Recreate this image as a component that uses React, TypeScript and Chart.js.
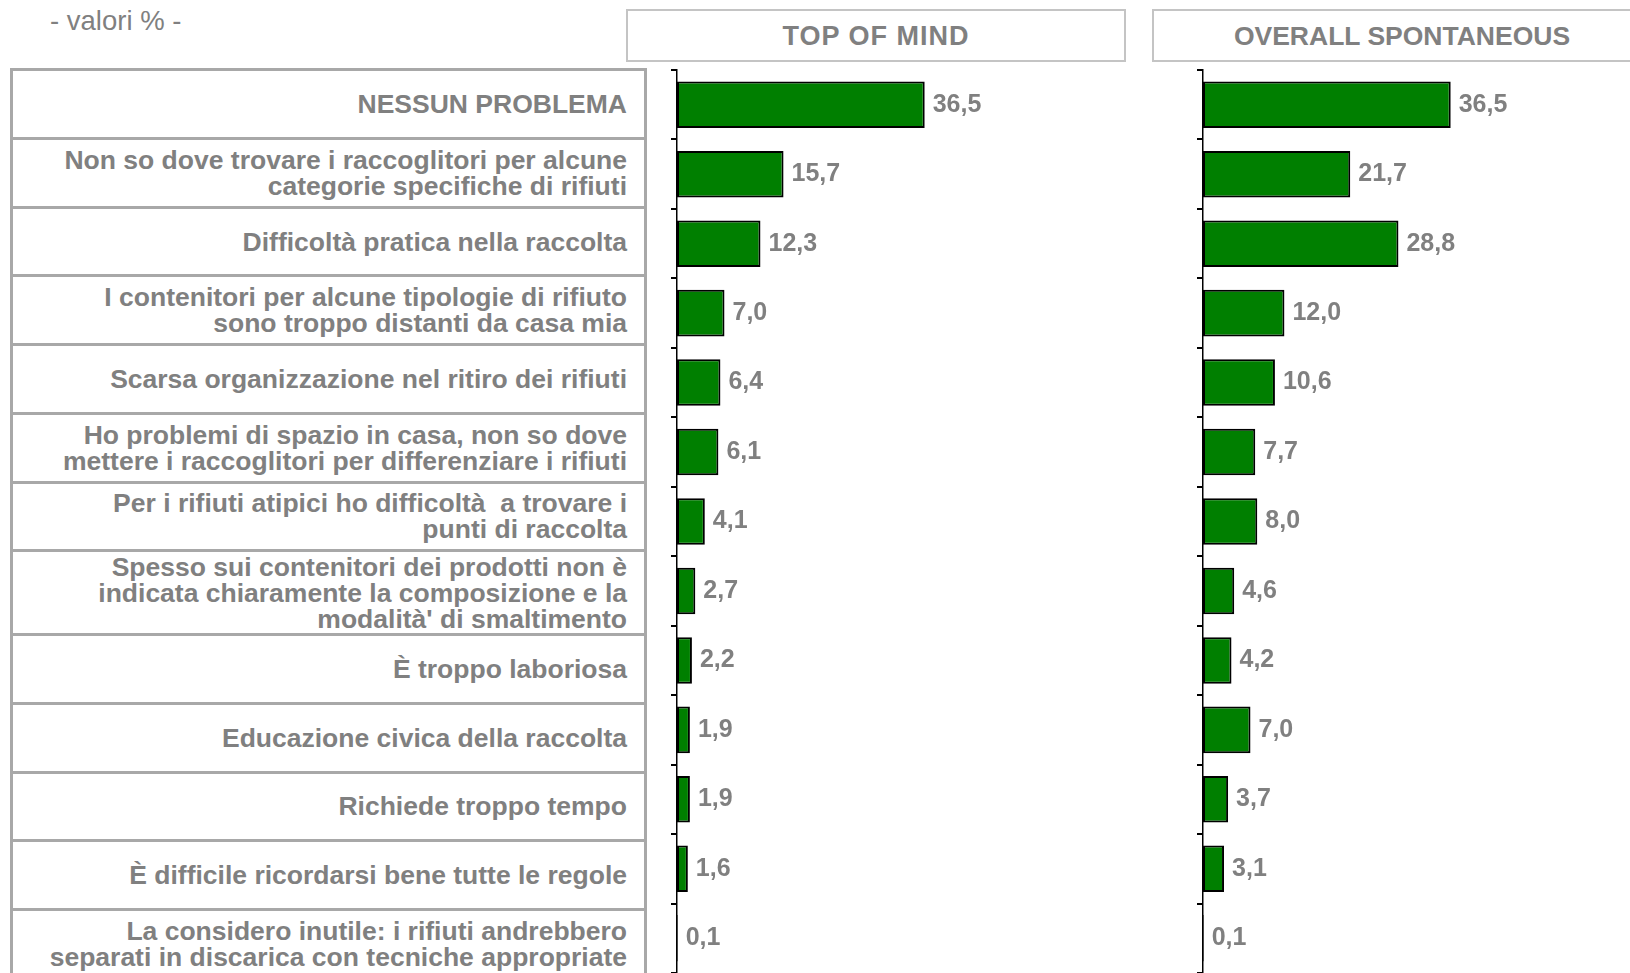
import React, { useEffect, useRef } from "react";
import { Chart, registerables } from "chart.js";

Chart.register(...registerables);

const CATEGORIES: string[][] = [
  ["NESSUN PROBLEMA"],
  ["Non so dove trovare i raccoglitori per alcune", "categorie specifiche di rifiuti"],
  ["Difficoltà pratica nella raccolta"],
  ["I contenitori per alcune tipologie di rifiuto", "sono troppo distanti da casa mia"],
  ["Scarsa organizzazione nel ritiro dei rifiuti"],
  ["Ho problemi di spazio in casa, non so dove", "mettere i raccoglitori per differenziare i rifiuti"],
  ["Per i rifiuti atipici ho difficoltà  a trovare i", "punti di raccolta"],
  ["Spesso sui contenitori dei prodotti non è", "indicata chiaramente la composizione e la", "modalità' di smaltimento"],
  ["È troppo laboriosa"],
  ["Educazione civica della raccolta"],
  ["Richiede troppo tempo"],
  ["È difficile ricordarsi bene tutte le regole"],
  ["La considero inutile: i rifiuti andrebbero", "separati in discarica con tecniche appropriate"],
];

const TOP_OF_MIND: number[] = [36.5, 15.7, 12.3, 7.0, 6.4, 6.1, 4.1, 2.7, 2.2, 1.9, 1.9, 1.6, 0.1];
const OVERALL: number[] = [36.5, 21.7, 28.8, 12.0, 10.6, 7.7, 8.0, 4.6, 4.2, 7.0, 3.7, 3.1, 0.1];

const HEADERS: string[] = ["TOP OF MIND", "OVERALL SPONTANEOUS"];
const SUBTITLE = "- valori % -";

const GRAY = "#808080";
const FONT = "'Liberation Sans', Arial, sans-serif";

const valueLabels = {
  id: "valueLabels",
  afterDatasetsDraw(chart: any) {
    const ctx = chart.ctx;
    const meta = chart.getDatasetMeta(0);
    const data = chart.data.datasets[0].data as number[];
    ctx.save();
    ctx.fillStyle = GRAY;
    ctx.font = `bold 25px ${FONT}`;
    ctx.textAlign = "left";
    ctx.textBaseline = "middle";
    meta.data.forEach((el: any, i: number) => {
      const txt = data[i].toFixed(1).replace(".", ",");
      ctx.fillText(txt, el.x + 8, el.y);
    });
    ctx.restore();
  },
};

function BarPanel({ values, left }: { values: number[]; left: number }) {
  const ref = useRef<HTMLCanvasElement>(null);
  useEffect(() => {
    if (!ref.current) return;
    const chart = new Chart(ref.current, {
      type: "bar",
      data: {
        labels: CATEGORIES.map((c) => c.join(" ")),
        datasets: [
          {
            data: values,
            backgroundColor: "#007f00",
            borderColor: "#000000",
            borderWidth: 2,
            borderSkipped: false,
            barPercentage: 0.67,
            categoryPercentage: 1,
          },
        ],
      },
      options: {
        indexAxis: "y",
        animation: false,
        responsive: false,
        maintainAspectRatio: false,
        layout: { padding: { top: 2, right: 0, bottom: 0, left: 0 } },
        plugins: {
          legend: { display: false },
          tooltip: { enabled: false },
          title: { display: false },
        },
        scales: {
          x: { display: false, min: 0, max: 69.4 },
          y: {
            display: true,
            ticks: { display: false },
            grid: {
              display: true,
              drawOnChartArea: false,
              offset: true,
              drawTicks: true,
              tickLength: 6,
              color: "#000000",
              lineWidth: 2,
            },
            border: { display: true, color: "#000000", width: 1.5 },
            afterFit: (s: any) => {
              s.width = 37;
            },
          },
        },
      } as any,
      plugins: [valueLabels],
    });
    return () => chart.destroy();
  }, [values]);
  return (
    <canvas
      ref={ref}
      width={508}
      height={905}
      style={{ position: "absolute", left, top: 68, width: 508, height: 905 }}
    />
  );
}

export default function App() {
  useEffect(() => {
    document.body.style.margin = "0";
    document.body.style.background = "#ffffff";
  }, []);

  let y = 0;
  const rows = CATEGORIES.map((lines, i) => {
    const h = i === 0 ? 66 : lines.length >= 3 ? 84 : 68.7;
    const top = y;
    y += h;
    return (
      <div
        key={i}
        style={{
          position: "absolute",
          left: 0,
          top,
          width: "100%",
          height: h,
          borderTop: i === 0 ? "none" : "3px solid #a8a8a8",
          boxSizing: "border-box",
          display: "flex",
          flexDirection: "column",
          justifyContent: "center",
          alignItems: "flex-end",
          paddingRight: 17,
        }}
      >
        {lines.map((l, j) => (
          <div key={j} style={{ lineHeight: "26px", whiteSpace: "pre" }}>
            {l}
          </div>
        ))}
      </div>
    );
  });

  return (
    <div
      style={{
        position: "relative",
        width: 1630,
        height: 973,
        overflow: "hidden",
        background: "#fff",
        fontFamily: FONT,
        color: GRAY,
      }}
    >
      <div
        style={{
          position: "absolute",
          left: 50,
          top: 6,
          fontSize: 27.5,
          lineHeight: "30px",
          color: GRAY,
        }}
      >
        {SUBTITLE}
      </div>
      {HEADERS.map((h, i) => (
        <div
          key={h}
          style={{
            position: "absolute",
            left: i === 0 ? 626 : 1152,
            top: 9,
            width: i === 0 ? 500 : 520,
            height: 53,
            border: "2px solid #c4c4c4",
            boxSizing: "border-box",
            display: "flex",
            alignItems: "center",
            justifyContent: "center",
            fontWeight: "bold",
            fontSize: i === 0 ? 27 : 26.5,
            letterSpacing: i === 0 ? 1 : 0,
            paddingRight: i === 0 ? 0 : 20,
            paddingTop: 2,
          }}
        >
          {h}
        </div>
      ))}
      <div
        style={{
          position: "absolute",
          left: 10,
          top: 68,
          width: 637,
          height: 920,
          border: "3px solid #a8a8a8",
          boxSizing: "border-box",
          fontWeight: "bold",
          fontSize: 26.5,
        }}
      >
        {rows}
      </div>
      <BarPanel values={TOP_OF_MIND} left={640} />
      <BarPanel values={OVERALL} left={1166} />
    </div>
  );
}
